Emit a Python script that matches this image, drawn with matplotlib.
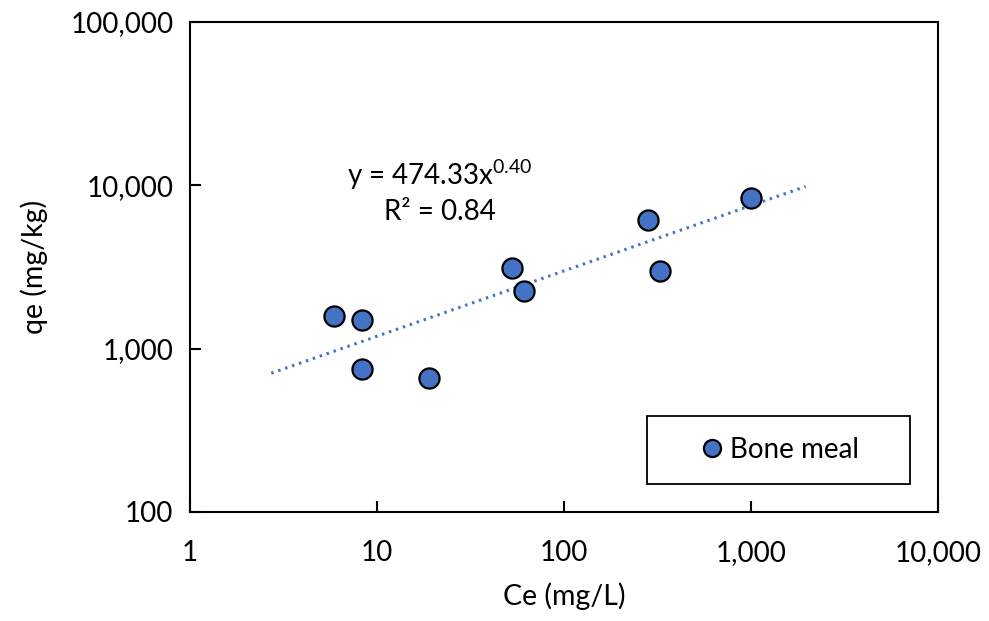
import matplotlib
matplotlib.use("Agg")
import matplotlib.pyplot as plt
import numpy as np
from matplotlib.patches import Rectangle
from matplotlib.ticker import FixedLocator, FuncFormatter, NullLocator

plt.rcParams['font.family'] = ['Lato', 'DejaVu Sans']

ce = [5.9, 8.3, 8.3, 19.0, 53.0, 61.0, 280.0, 325.0, 997.0]
qe = [1585, 1496, 750, 661, 3120, 2254, 6130, 2990, 8360]
series_label = "Bone meal"
fit_a = 474.33
fit_b = 0.40
fit_x = [2.72, 1960]
xticks = [1, 10, 100, 1000, 10000]
yticks = [100, 1000, 10000, 100000]

FS = 20

fig = plt.figure(figsize=(9.89, 6.21), dpi=100)
ax = fig.add_axes([190/989, 1-512/621, (938-190)/989, (512-22)/621])
ax.set_xscale('log')
ax.set_yscale('log')
ax.set_xlim(1, 10000)
ax.set_ylim(100, 100000)

xf = np.logspace(np.log10(fit_x[0]), np.log10(fit_x[1]), 200)
ax.plot(xf, fit_a * xf**fit_b, linestyle=(0, (0.8, 1.6)), color='#4472C4', lw=2.2, zorder=2)
ax.plot(ce, qe, 'o', markersize=14.5, markerfacecolor='#4472C4', markeredgecolor='black',
        markeredgewidth=1.6, linestyle='none', label=series_label, zorder=3)

fmt = FuncFormatter(lambda v, p: f"{int(round(v)):,}")
ax.xaxis.set_major_locator(FixedLocator(xticks))
ax.yaxis.set_major_locator(FixedLocator(yticks))
ax.xaxis.set_minor_locator(NullLocator())
ax.yaxis.set_minor_locator(NullLocator())
ax.xaxis.set_major_formatter(fmt)
ax.yaxis.set_major_formatter(fmt)
ax.tick_params(axis='both', direction='in', length=8, width=1.5, labelsize=FS, color='black')
ax.tick_params(axis='x', pad=20)
ax.tick_params(axis='y', pad=12)
for s in ax.spines.values():
    s.set_linewidth(1.5)

ax.set_xlabel("Ce (mg/L)", fontsize=FS + 0.5, labelpad=12)
ax.set_ylabel("qe (mg/kg)", fontsize=FS + 0.5, labelpad=16)

ax.text(0.334, 0.655, r"y = 474.33x$^{\mathregular{0.40}}$" + "\nR\u00b2 = 0.84",
        transform=ax.transAxes, ha='center', va='center', fontsize=FS, linespacing=1.3)

# legend frame box (in axes fraction)
bx0 = (647 - 190) / 748
by0 = (512 - 484) / 490
bw = (910 - 647) / 748
bh = (484 - 416) / 490
ax.add_patch(Rectangle((bx0, by0), bw, bh, transform=ax.transAxes, facecolor='white',
                       edgecolor='black', linewidth=1.3, zorder=4))
leg = ax.legend(loc='center', bbox_to_anchor=(bx0 + bw / 2, by0 + bh / 2),
                frameon=False, fontsize=FS, handletextpad=0.15,
                borderaxespad=0, borderpad=0, markerscale=0.85, handlelength=1.0)
leg.set_zorder(5)

fig.savefig("out.png", dpi=100)
